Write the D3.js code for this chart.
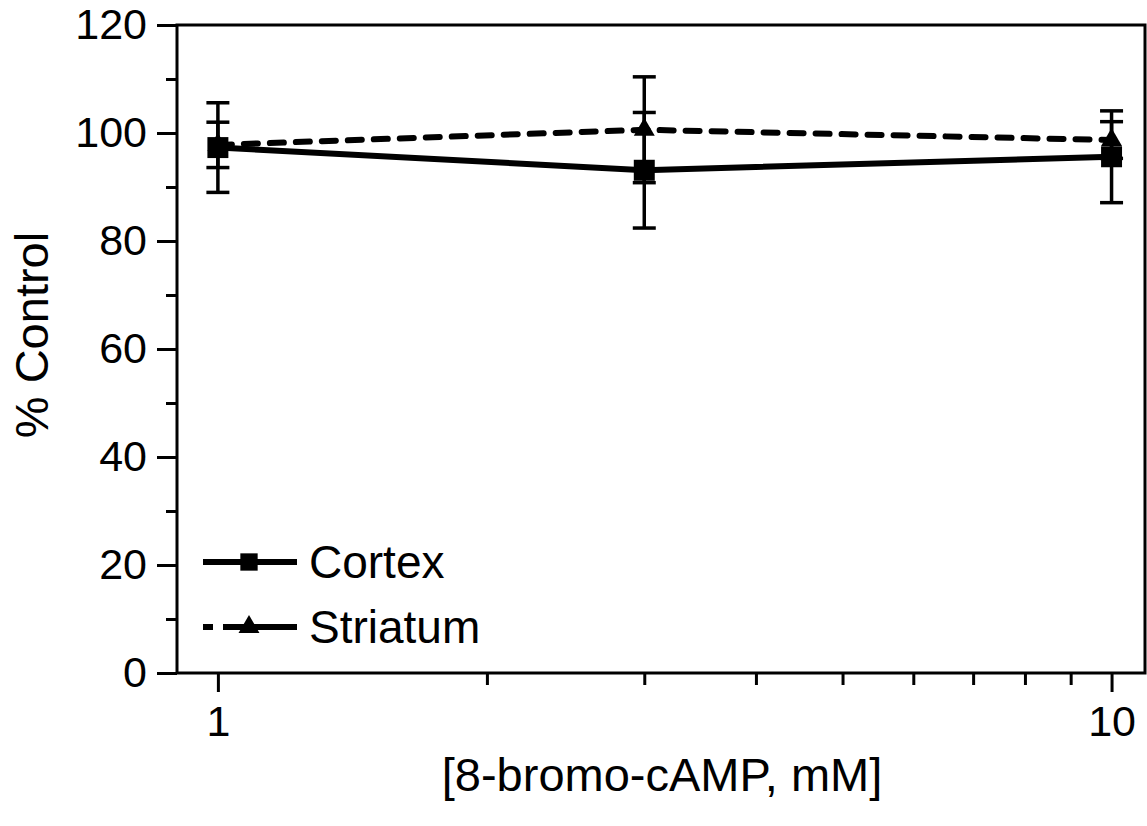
<!DOCTYPE html>
<html>
<head>
<meta charset="utf-8">
<script src="https://cdn.jsdelivr.net/npm/d3@7"></script>
<style>
  html, body { margin: 0; padding: 0; background: #fff; }
  svg { display: block; font-family: "Liberation Sans", Arial, sans-serif; }
</style>
</head>
<body>
<svg id="chart" width="1147" height="826"></svg>
<script>
// values
const doses = [1, 3, 10];
const cortexMean = [97.3, 93.1, 95.6];
const cortexErr = [8.3, 10.7, 8.5];
const striatumMean = [97.8, 100.6, 98.7];
const striatumErr = [4.2, 9.8, 3.4];
const yMajor = [0, 20, 40, 60, 80, 100, 120];
const yMinor = [10, 30, 50, 70, 90, 110];
const xMajor = [1, 10];
const xMinor = [2, 3, 4, 5, 6, 7, 8, 9];

const svg = d3.select('#chart');
const plotL = 177, plotR = 1145, plotT = 25, plotB = 673;

const x = d3.scaleLog().domain([0.9, 10.9]).range([plotL, plotR]);
const y = d3.scaleLinear().domain([0, 120]).range([plotB, plotT]);

const series = [
  { name: 'Cortex', mean: cortexMean, err: cortexErr, dash: null, symbol: d3.symbolSquare, size: 440 },
  { name: 'Striatum', mean: striatumMean, err: striatumErr, dash: '14,12', symbol: d3.symbolTriangle, size: 190 }
];

// axes
function styleAxis(g) {
  g.select('.domain').remove();
  g.selectAll('line').attr('stroke', '#000').attr('stroke-width', 3);
  g.selectAll('text').attr('fill', '#000').attr('font-size', 43)
    .attr('font-family', '"Liberation Sans", Arial, sans-serif');
}

svg.append('g').attr('transform', `translate(${plotL},0)`)
  .call(d3.axisLeft(y).tickValues(yMajor).tickSize(20).tickPadding(10))
  .call(styleAxis);
svg.append('g').attr('transform', `translate(${plotL},0)`)
  .call(d3.axisLeft(y).tickValues(yMinor).tickSize(11).tickFormat(''))
  .call(styleAxis);
svg.append('g').attr('transform', `translate(0,${plotB})`)
  .call(d3.axisBottom(x).tickValues(xMajor).tickFormat(d3.format('d')).tickSize(19).tickPadding(13))
  .call(styleAxis);
svg.append('g').attr('transform', `translate(0,${plotB})`)
  .call(d3.axisBottom(x).tickValues(xMinor).tickSize(12).tickFormat(''))
  .call(styleAxis);

svg.append('rect')
  .attr('x', plotL).attr('y', plotT)
  .attr('width', plotR - plotL).attr('height', plotB - plotT)
  .attr('fill', 'none').attr('stroke', '#000').attr('stroke-width', 3);

// error bars
series.forEach(s => {
  const g = svg.append('g');
  doses.forEach((d, i) => {
    const cx = x(d), hi = y(s.mean[i] + s.err[i]), lo = y(s.mean[i] - s.err[i]);
    g.append('line').attr('x1', cx).attr('x2', cx).attr('y1', hi).attr('y2', lo)
      .attr('stroke', '#000').attr('stroke-width', 3.5);
    [hi, lo].forEach(yy => g.append('line')
      .attr('x1', cx - 11.5).attr('x2', cx + 11.5).attr('y1', yy).attr('y2', yy)
      .attr('stroke', '#000').attr('stroke-width', 3.5));
  });
});

// lines and markers
const line = d3.line().x(d => x(d[0])).y(d => y(d[1]));
series.forEach(s => {
  const pts = doses.map((d, i) => [d, s.mean[i]]);
  svg.append('path').datum(pts)
    .attr('d', line).attr('fill', 'none').attr('stroke', '#000')
    .attr('stroke-width', 6)
    .attr('stroke-dasharray', s.dash)
    .attr('stroke-linecap', s.dash ? 'round' : 'butt');
  svg.selectAll(null).data(pts).enter().append('path')
    .attr('transform', d => `translate(${x(d[0])},${y(d[1])})`)
    .attr('d', d3.symbol().type(s.symbol).size(s.size))
    .attr('fill', '#000');
});

// legend
const legend = svg.append('g');
series.forEach((s, i) => {
  const ly = 562 + i * 65;
  legend.append('line').attr('x1', 203).attr('x2', 297).attr('y1', ly).attr('y2', ly)
    .attr('stroke', '#000').attr('stroke-width', 6)
    .attr('stroke-dasharray', s.dash ? '10,10,100' : null);
  legend.append('path')
    .attr('transform', `translate(249,${ly})`)
    .attr('d', d3.symbol().type(s.symbol).size(s.dash ? 190 : 300))
    .attr('fill', '#000');
  legend.append('text').attr('x', 309).attr('y', ly).attr('dy', '0.35em')
    .attr('font-size', 46).text(s.name);
});

// axis titles
svg.append('text')
  .attr('x', 662).attr('y', 791)
  .attr('text-anchor', 'middle').attr('font-size', 47)
  .text('[8-bromo-cAMP, mM]');
svg.append('text')
  .attr('transform', 'translate(48,335) rotate(-90)')
  .attr('text-anchor', 'middle').attr('font-size', 47)
  .text('% Control');
</script>
</body>
</html>
